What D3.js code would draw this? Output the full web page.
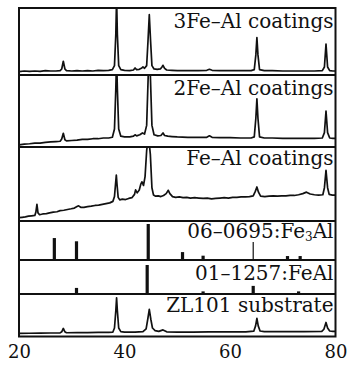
<!DOCTYPE html>
<html>
<head>
<meta charset="utf-8">
<script src="https://cdn.jsdelivr.net/npm/d3@7"></script>
<style>
  body { margin: 0; background: #fff; }
  svg { display: block; }
  .lbl { font-family: "DejaVu Serif", serif; font-size: 20px; fill: #111; }
</style>
</head>
<body>
<div id="chart"></div>
<script>
// x axis ticks (2 theta, degrees)
var xTicks = [20, 40, 60, 80];

// measured patterns: [2theta, relative intensity]
var xrd3FeAl = [[20,5],[21,6],[22,5.5],[23,6],[24,5.5],[25,6.5],[26,6],[27,6],[27.8,6.5],[28.1,9],[28.4,20.5],[28.7,9],[29,6.5],[30,6],[31,6.5],[32,6],[33,6.5],[34,6],[35,7],[36,6.5],[37,7],[37.7,8],[38.1,14],[38.35,60],[38.5,115],[38.65,60],[38.9,14],[39.3,8],[40,7],[41,6.5],[41.7,7.5],[42,10.5],[42.3,8],[42.8,8.5],[43.2,10],[43.5,12],[43.8,10],[44.2,14],[44.45,50],[44.7,90],[44.95,50],[45.2,14],[45.6,9],[46.2,8.5],[46.8,9],[47.1,12],[47.3,14.5],[47.6,10],[48,7.5],[49,7],[50,6.5],[52,6.5],[54,6.5],[55.6,7],[56.1,8.5],[56.6,7],[58,6.5],[60,6.5],[62,6.5],[64,6.5],[64.6,8],[64.9,30],[65.1,56],[65.3,30],[65.6,8],[66.5,6.5],[68,6.5],[70,6],[72,6],[74,6],[76,6],[77.5,6.5],[77.9,12],[78.2,46],[78.5,12],[78.9,6.5],[79.5,6],[80,6]];

var xrd2FeAl = [[20,3],[21,4],[22,4.5],[23,5.5],[24,5.5],[25,6.5],[26,7],[27,7.5],[27.8,8],[28.1,11],[28.4,19],[28.7,10],[29,8.5],[30,9],[31,9.5],[32,10.5],[33,10.5],[34,11.5],[35,11.5],[36,12.5],[37,12.5],[37.7,13.5],[38.1,25],[38.35,80],[38.5,125],[38.65,80],[38.9,25],[39.3,15],[40,14],[41,14],[41.7,15],[42,17],[42.3,15.5],[42.9,17],[43.4,19.5],[43.8,18],[44.2,30],[44.5,100],[44.7,130],[44.9,100],[45.2,30],[45.6,17],[46.3,15.5],[46.9,16],[47.3,19.5],[47.6,16],[48.2,15],[49,14.5],[50,14],[52,13.5],[54,13.5],[55.6,13.5],[56.1,15.5],[56.6,13.5],[58,13],[60,13],[62,12.5],[64,12.5],[64.6,14],[64.9,40],[65.1,67],[65.3,40],[65.6,14],[66.5,12.5],[68,12.5],[70,12],[72,12],[74,12],[76,12],[77.5,12.5],[77.9,20],[78.2,50],[78.5,20],[78.9,12.5],[79.5,12],[80,12]];

var xrdFeAl = [[20,4.5],[20.6,5],[21.2,5.5],[21.8,6.5],[22.4,7],[23,7.5],[23.2,12],[23.4,22.6],[23.6,11],[23.9,8.5],[24.5,9.5],[25.2,10],[25.8,11],[26.5,12],[27.2,12.5],[27.8,14],[28.5,14.5],[29.2,15.5],[29.9,16.5],[30.5,17.5],[31,19.5],[31.3,20.5],[31.7,18.5],[32.3,18.5],[33,19.5],[33.7,20],[34.4,21],[35.1,21.5],[35.8,22.5],[36.5,23.5],[37.2,24.5],[37.8,26.5],[38.1,33],[38.3,50],[38.45,62],[38.6,48],[38.8,32],[39.1,28.5],[39.6,29.5],[40.2,29],[40.8,30.5],[41.4,31.5],[41.9,36],[42.1,42],[42.4,38],[42.8,42],[43.1,50],[43.3,53],[43.6,48],[43.9,60],[44.2,95],[44.55,115],[44.9,90],[45.2,45],[45.5,35],[45.9,33.5],[46.4,34],[46.9,33],[47.4,34.5],[47.9,37],[48.3,41.5],[48.6,37],[49.1,33],[49.7,32],[50.4,32.5],[51.1,31.5],[51.8,32],[52.5,31],[53.3,31.5],[54.1,31],[54.9,30.5],[55.7,31],[56.5,30],[57.3,30.5],[58.1,31],[58.9,31.5],[59.7,31],[60.5,32],[61.3,32],[62.1,32.5],[62.9,32.5],[63.7,33],[64.4,34],[64.8,40],[65.1,46],[65.4,39],[65.8,33.5],[66.6,33],[67.4,33.5],[68.2,34],[69,33.5],[69.8,34],[70.6,34],[71.4,34.5],[72.2,34.5],[73,35.5],[73.8,37],[74.5,39],[75.2,36.5],[76,35.5],[76.8,35],[77.6,35.5],[77.9,45],[78.2,68.5],[78.5,45],[78.8,36],[79.4,35],[80,35]];

var xrdZL101 = [[20,7.5],[22,7.7],[24,8],[26,8.2],[27.8,8.5],[28.1,11],[28.4,19],[28.7,11],[29,8.8],[31,9],[33,9.2],[35,9.5],[37,9.8],[37.8,10.5],[38.1,20],[38.35,60],[38.5,91],[38.65,60],[38.9,20],[39.3,11.5],[40,10.5],[42,10.5],[43.5,11.5],[44.1,18],[44.4,40],[44.7,64],[45,40],[45.3,20],[45.8,14],[46.5,12],[47.3,15.5],[48,11],[50,10.5],[53,10.5],[56,11],[60,11],[63,11],[64.5,12.5],[64.85,25],[65.1,42.6],[65.35,25],[65.7,13],[66.5,11.5],[70,11.5],[74,11.5],[77.4,12],[77.8,17],[78.2,33],[78.5,20],[78.9,13],[79.5,12],[80,12]];

// PDF reference lines: [2theta, relative intensity]
var sticksFe3Al = [[26.7,61],[30.9,52],[44.5,100],[51.0,22],[54.9,12],[64.4,50],[70.9,11],[73.3,11]];
var sticksFeAl = [[30.9,21],[44.3,100],[54.9,9],[64.4,28],[73.0,9]];

var panelLabels = ["3Fe\u2013Al coatings", "2Fe\u2013Al coatings", "Fe\u2013Al coatings",
  "06\u20130695:Fe3Al", "01\u20131257:FeAl", "ZL101 substrate"];

var W = 351, H = 365;
var left = 19, right = 335.5;
// panel boundaries, top to bottom
var bounds = [8, 75, 147, 221, 260, 294, 336.5];
var labelBaseline = [28, 94.5, 165, 238, 280, 311.5];

var svg = d3.select("#chart").append("svg")
  .attr("width", W).attr("height", H);

var x = d3.scaleLinear().domain([20, 80]).range([left, right]);

var panels = [
  { type: "line", data: xrd3FeAl },
  { type: "line", data: xrd2FeAl },
  { type: "line", data: xrdFeAl },
  { type: "stick", data: sticksFe3Al, top: 224 },
  { type: "stick", data: sticksFeAl, top: 265 },
  { type: "line", data: xrdZL101 }
];

var defs = svg.append("defs");

panels.forEach(function (p, i) {
  var y0 = bounds[i], y1 = bounds[i + 1];
  var g = svg.append("g");
  defs.append("clipPath").attr("id", "clip" + i)
    .append("rect").attr("x", left).attr("y", y0)
    .attr("width", right - left).attr("height", y1 - y0);

  if (p.type === "line") {
    var y = d3.scaleLinear().domain([0, 100]).range([y1, y0]);
    var line = d3.line()
      .x(function (d) { return x(d[0]); })
      .y(function (d) { return y(d[1]); });
    g.append("path")
      .datum(p.data)
      .attr("clip-path", "url(#clip" + i + ")")
      .attr("fill", "none")
      .attr("stroke", "#111")
      .attr("stroke-width", 1.7)
      .attr("stroke-linejoin", "round")
      .attr("d", line);
  } else {
    var ys = d3.scaleLinear().domain([0, 100]).range([y1, p.top]);
    g.selectAll("line")
      .data(p.data)
      .enter().append("line")
      .attr("x1", function (d) { return x(d[0]); })
      .attr("x2", function (d) { return x(d[0]); })
      .attr("y1", y1)
      .attr("y2", function (d) { return ys(d[1]); })
      .attr("stroke", "#111")
      .attr("stroke-width", function (d) { return (i === 3 && d[0] === 64.4) ? 1.2 : 3.2; });
  }

  // label
  var t = g.append("text").attr("class", "lbl")
    .attr("x", 333.5).attr("y", labelBaseline[i])
    .attr("text-anchor", "end");
  if (i === 3) {
    t.append("tspan").text("06\u20130695:Fe");
    t.append("tspan").text("3").attr("font-size", "12px").attr("dy", 3);
    t.append("tspan").text("Al").attr("dy", -3);
  } else {
    t.text(panelLabels[i]);
  }
});

// frame and dividers
svg.append("rect")
  .attr("x", left).attr("y", bounds[0])
  .attr("width", right - left).attr("height", bounds[6] - bounds[0])
  .attr("fill", "none").attr("stroke", "#111").attr("stroke-width", 2);
svg.selectAll("line.div")
  .data(bounds.slice(1, 6))
  .enter().append("line").attr("class", "div")
  .attr("x1", left).attr("x2", right)
  .attr("y1", function (d) { return d; }).attr("y2", function (d) { return d; })
  .attr("stroke", "#111").attr("stroke-width", 1.8);

// x axis labels
var ax = svg.append("g")
  .attr("transform", "translate(0," + bounds[6] + ")")
  .call(d3.axisBottom(x).tickValues(xTicks).tickSize(0).tickPadding(9));
ax.select(".domain").remove();
ax.selectAll("text")
  .attr("font-family", "DejaVu Serif, serif")
  .attr("font-size", "18px")
  .attr("fill", "#111");
</script>
</body>
</html>
